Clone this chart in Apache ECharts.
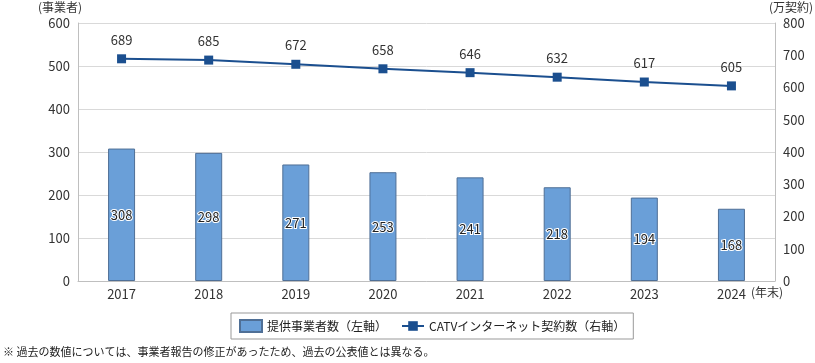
<!DOCTYPE html>
<html><head><meta charset="utf-8">
<script src="https://cdn.jsdelivr.net/npm/echarts@6/dist/echarts.min.js"></script>
<style>html,body{margin:0;padding:0;background:#fff}#c{width:815px;height:363px}</style>
</head><body><div id="c"></div>
<script>
const categories = ['2017','2018','2019','2020','2021','2022','2023','2024'];
const providers = [308, 298, 271, 253, 241, 218, 194, 168];
const contracts = [689, 685, 672, 658, 646, 632, 617, 605];
const leftTicks = [0, 100, 200, 300, 400, 500, 600];
const rightTicks = [0, 100, 200, 300, 400, 500, 600, 700, 800];
const barName = '提供事業者数（左軸）';
const lineName = 'CATVインターネット契約数（右軸）';
const leftUnit = '(事業者)';
const rightUnit = '(万契約)';
const yearSuffix = '(年末)';
const note = '※ 過去の数値については、事業者報告の修正があったため、過去の公表値とは異なる。';

const FONT = '"Noto Sans CJK JP", "Noto Sans", sans-serif';
const chart = echarts.init(document.getElementById('c'));
chart.setOption({
  animation: false,
  textStyle: {fontFamily: FONT},
  grid: {left: 78, right: 40, top: 23, bottom: 82},
  legend: {
    left: 231, top: 313,
    padding: [6, 8, 6, 8],
    borderColor: '#999', borderWidth: 1,
    itemGap: 14, itemWidth: 22, itemHeight: 12,
    textStyle: {fontSize: 12, color: '#222', fontFamily: FONT},
    data: [
      {name: barName, icon: 'rect'},
      {name: lineName}
    ]
  },
  xAxis: {
    type: 'category', data: categories,
    axisLine: {lineStyle: {color: '#bfbfbf'}},
    axisTick: {show: false},
    axisLabel: {color: '#333', fontSize: 13, margin: 7}
  },
  yAxis: [
    {type: 'value', min: leftTicks[0], max: leftTicks[leftTicks.length-1], interval: 100,
     axisLine: {show: true, lineStyle: {color: '#bfbfbf'}},
     axisTick: {show: false},
     splitLine: {lineStyle: {color: '#d9d9d9'}},
     axisLabel: {color: '#333', fontSize: 13, margin: 8}},
    {type: 'value', min: rightTicks[0], max: rightTicks[rightTicks.length-1], interval: 100,
     axisLine: {show: true, lineStyle: {color: '#bfbfbf'}},
     axisTick: {show: false},
     splitLine: {show: false},
     axisLabel: {color: '#333', fontSize: 13, margin: 8}}
  ],
  series: [
    {name: barName, type: 'bar', data: providers, barWidth: 27, yAxisIndex: 0,
     itemStyle: {color: '#6a9fd8', borderColor: '#4f6f96', borderWidth: 1},
     label: {show: true, position: 'inside', fontSize: 13, color: '#222',
       textBorderColor: '#fff', textBorderWidth: 2, fontFamily: FONT}},
    {name: lineName, type: 'line', data: contracts, yAxisIndex: 1,
     symbol: 'rect', symbolSize: 9,
     lineStyle: {color: '#1b4f8f', width: 2},
     itemStyle: {color: '#1b4f8f'},
     label: {show: true, position: 'top', distance: 8, fontSize: 13, color: '#333', fontFamily: FONT}}
  ],
  graphic: [
    {type: 'text', left: 38, top: 1, style: {text: leftUnit, fontSize: 12, fill: '#333', fontFamily: FONT}},
    {type: 'text', right: 2, top: 1, style: {text: rightUnit, fontSize: 12, fill: '#333', fontFamily: FONT}},
    {type: 'text', left: 751, top: 286, style: {text: yearSuffix, fontSize: 12, fill: '#333', fontFamily: FONT}},
    {type: 'text', left: 3, top: 346, style: {text: note, fontSize: 11, fill: '#222', fontFamily: FONT}}
  ]
});
</script></body></html>
